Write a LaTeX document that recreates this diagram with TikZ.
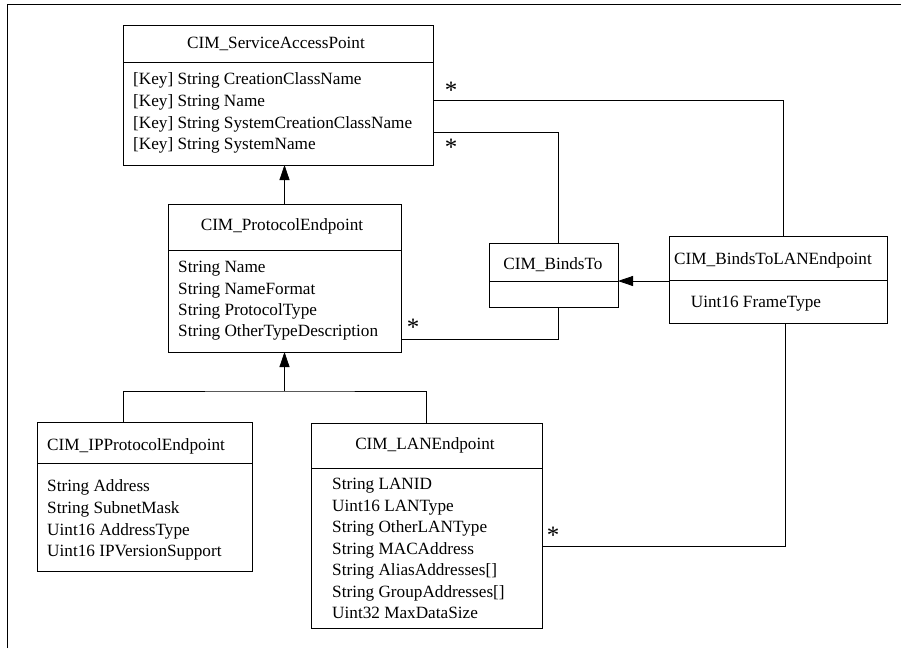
\documentclass[tikz,border=0pt]{standalone}
\usepackage{fontspec}
\setmainfont{Liberation Serif}
\usetikzlibrary{arrows.meta,calc}
\newcommand\umlbox[6]{%
  \node[box, anchor=north west, minimum width=#4pt, minimum height=#5pt] (#1) at (#2,#3) {};
  \draw[rule] ($(#1.north west)+(0,#6)$) -- ($(#1.north east)+(0,#6)$);}
\begin{document}
\begin{tikzpicture}[x=1pt,y=-1pt,
  box/.style={draw=black, line width=0.8pt, inner sep=0pt, outer sep=0pt},
  rule/.style={draw=black, line width=0.8pt},
  conn/.style={draw=black, line width=0.8pt},
  inh/.style={conn, -{Triangle[width=10pt,length=15pt]}},
  lbl/.style={inner sep=0pt, font=\fontsize{17.2}{20}\selectfont},
  mult/.style={inner sep=0pt, font=\fontsize{25}{28}\selectfont},
]
\useasboundingbox (0,0) rectangle (901,648);
\draw[line width=1pt] (7,648) -- (7,4) -- (901,4);

% class boxes
\umlbox{sap}{123}{25}{310}{140}{37}
\umlbox{pe}{168}{204}{233}{148}{46}
\umlbox{bt}{489}{243}{129}{64}{38}
\umlbox{btl}{669}{236}{218}{87}{44}
\umlbox{ip}{37}{422}{215}{149}{41}
\umlbox{lan}{311}{423}{231}{205}{45}

% titles
\node[lbl, anchor=base] (sapt) at (276,48.7) {CIM\_ServiceAccessPoint};
\node[lbl, anchor=base] (pet) at (282,230.7) {CIM\_ProtocolEndpoint};
\node[lbl, anchor=base] (btt) at (553,269.7) {CIM\_BindsTo};
\node[lbl, anchor=base west] (btlt) at (674,264.7) {CIM\_BindsToLANEndpoint};
\node[lbl, anchor=base west] (ipt) at (47,450.7) {CIM\_IPProtocolEndpoint};
\node[lbl, anchor=base] (lant) at (425,449.7) {CIM\_LANEndpoint};

% attributes
\foreach \t [count=\i from 0] in {{[Key] String CreationClassName},{[Key] String Name},{[Key] String SystemCreationClassName},{[Key] String SystemName}}
  \node[lbl, anchor=base west] (sapa\i) at (133,84.7+21.7*\i) {\t};
\foreach \t [count=\i from 0] in {String Name,String NameFormat,String ProtocolType,String OtherTypeDescription}
  \node[lbl, anchor=base west] (pea\i) at (178,272.7+21.4*\i) {\t};
\node[lbl, anchor=base west] (btla0) at (690.7,307.7) {Uint16 FrameType};
\foreach \t [count=\i from 0] in {String Address,String SubnetMask,Uint16 AddressType,Uint16 IPVersionSupport}
  \node[lbl, anchor=base west] (ipa\i) at (47,491.7+21.7*\i) {\t};
\foreach \t [count=\i from 0] in {String LANID,Uint16 LANType,String OtherLANType,String MACAddress,{String AliasAddresses[]},{String GroupAddresses[]},Uint32 MaxDataSize}
  \node[lbl, anchor=base west] (lana\i) at (332,489.7+21.5*\i) {\t};

% associations
\draw[conn] ($(sap.north east)+(0,75)$) -| ($(btl.north west)+(114,0)$);
\draw[conn] ($(sap.north east)+(0,107)$) -| ($(bt.north west)+(69,0)$);
\draw[conn] ($(pe.north east)+(0,135)$) -| ($(bt.south west)+(69,0)$);
\draw[inh] ($(btl.north west)+(0,45)$) -- ($(bt.north east)+(0,38)$);
\draw[conn] ($(btl.south west)+(116,0)$) |- ($(lan.north east)+(0,123)$);

% multiplicities
\node[mult] (m1) at (451,90) {*};
\node[mult] (m2) at (451,147) {*};
\node[mult] (m3) at (413,327) {*};
\node[mult] (m4) at (553,535) {*};

% inheritance
\draw[inh] (pe.north) -- (pe.north |- sap.south);
\coordinate (junc) at (284.5,391);
\draw[inh] (junc) -- (pe.south);
\draw[conn] ($(ip.north west)+(86,0)$) |- (junc) -| (lan.north);
\end{tikzpicture}
\end{document}
